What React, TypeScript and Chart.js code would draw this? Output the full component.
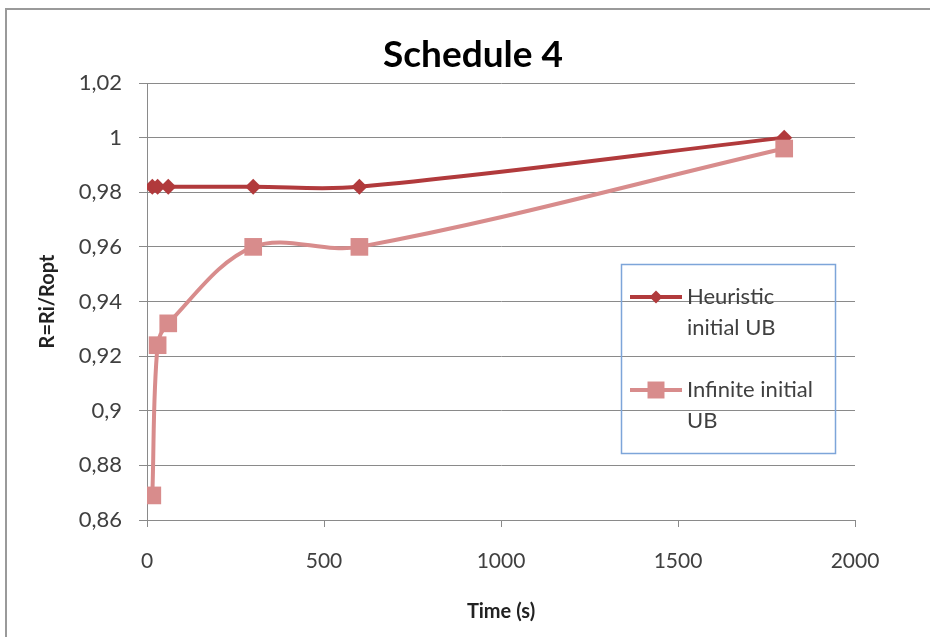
import React, { useEffect, useRef } from "react";
import { Chart, registerables } from "chart.js";

Chart.register(...registerables);

// Run time (s) at which each solution ratio was recorded
const heuristicTimes = [15, 30, 60, 300, 600, 1800];
const heuristicRatios = [0.982, 0.982, 0.982, 0.982, 0.982, 1.0];
const infiniteTimes = [15, 30, 60, 300, 600, 1800];
const infiniteRatios = [0.869, 0.924, 0.932, 0.96, 0.96, 0.996];

const xTickValues = [0, 500, 1000, 1500, 2000];
const yTickValues = [0.86, 0.88, 0.9, 0.92, 0.94, 0.96, 0.98, 1.0, 1.02];

const chartTitle = "Schedule 4";
const xAxisTitle = "Time (s)";
const yAxisTitle = "R=Ri/Ropt";
const seriesLabels = [
  ["Heuristic", "initial UB"],
  ["Infinite initial", "UB"],
];
const seriesColors = ["#B13A3C", "#D88C8C"];

const FONT = "Lato, 'Open Sans', sans-serif";

// Decimal comma, trailing zeros dropped (1,02 / 1 / 0,9)
const formatRatio = (v: number) =>
  String(Number(v.toFixed(2))).replace(".", ",");

function drawMarker(
  ctx: CanvasRenderingContext2D,
  style: string,
  x: number,
  y: number,
  r: number
) {
  ctx.beginPath();
  if (style === "rectRot") {
    ctx.moveTo(x - r, y);
    ctx.lineTo(x, y - r);
    ctx.lineTo(x + r, y);
    ctx.lineTo(x, y + r);
    ctx.closePath();
  } else {
    const s = r * Math.SQRT1_2;
    ctx.rect(x - s, y - s, 2 * s, 2 * s);
  }
  ctx.fill();
}

const decorations = {
  id: "decorations",
  beforeDraw(chart: any) {
    const ctx = chart.ctx as CanvasRenderingContext2D;
    ctx.save();
    ctx.fillStyle = "#ffffff";
    ctx.fillRect(0, 0, chart.width, chart.height);
    // outer chart frame
    ctx.strokeStyle = "#9a9a9a";
    ctx.lineWidth = 2;
    ctx.strokeRect(6, 9, chart.width + 20, chart.height + 20);
    ctx.restore();
  },
  afterDraw(chart: any) {
    const ctx = chart.ctx as CanvasRenderingContext2D;
    ctx.save();
    // title
    ctx.fillStyle = "#000000";
    ctx.font = `bold 37px ${FONT}`;
    ctx.textAlign = "center";
    ctx.textBaseline = "middle";
    ctx.fillText(chartTitle, 473, 55);

    // legend box
    const bx = 621.5, by = 264.5, bw = 214, bh = 189;
    ctx.strokeStyle = "#7DA5D9";
    ctx.lineWidth = 1.5;
    ctx.strokeRect(bx, by, bw, bh);

    const rows = [
      { y: 297, style: "rectRot", radius: 6.5 },
      { y: 390, style: "rect", radius: 12 },
    ];
    rows.forEach((row, i) => {
      ctx.strokeStyle = seriesColors[i];
      ctx.lineWidth = 4;
      ctx.beginPath();
      ctx.moveTo(630, row.y);
      ctx.lineTo(682, row.y);
      ctx.stroke();
      ctx.fillStyle = seriesColors[i];
      drawMarker(ctx, row.style, 656, row.y, row.radius);
      ctx.fillStyle = "#404040";
      ctx.font = `22px ${FONT}`;
      ctx.textAlign = "left";
      ctx.textBaseline = "middle";
      ctx.fillText(seriesLabels[i][0], 687, row.y);
      ctx.fillText(seriesLabels[i][1], 687, row.y + 31);
    });
    ctx.restore();
  },
};

export default function App() {
  const canvasRef = useRef<HTMLCanvasElement | null>(null);

  useEffect(() => {
    document.body.style.margin = "0";
    const canvas = canvasRef.current;
    if (!canvas) return;

    const heuristicPoints = heuristicTimes.map((t, i) => ({ x: t, y: heuristicRatios[i] }));
    const infinitePoints = infiniteTimes.map((t, i) => ({ x: t, y: infiniteRatios[i] }));

    const chart = new Chart(canvas, {
      type: "scatter",
      data: {
        datasets: [
          {
            label: seriesLabels[1].join(" "),
            data: infinitePoints,
            showLine: true,
            tension: 0.35,
            borderColor: seriesColors[1],
            backgroundColor: seriesColors[1],
            borderWidth: 4,
            pointStyle: "rect",
            pointRadius: 12.5,
            pointBorderWidth: 0,
          },
          {
            label: seriesLabels[0].join(" "),
            data: heuristicPoints,
            showLine: true,
            tension: 0.35,
            borderColor: seriesColors[0],
            backgroundColor: seriesColors[0],
            borderWidth: 4,
            pointStyle: "rectRot",
            pointRadius: 8,
            pointBorderWidth: 0,
          },
        ],
      },
      options: {
        responsive: false,
        animation: false,
        devicePixelRatio: 1,
        layout: { padding: { left: 32, right: 75, top: 83, bottom: 13 } },
        plugins: {
          legend: { display: false },
          title: { display: false },
          tooltip: { enabled: false },
        },
        scales: {
          x: {
            type: "linear",
            min: 0,
            max: 2000,
            afterBuildTicks: (s: any) => {
              s.ticks = xTickValues.map((v) => ({ value: v }));
            },
            afterFit: (s: any) => {
              s.height = 104;
            },
            grid: {
              drawOnChartArea: false,
              drawTicks: true,
              tickLength: 7,
              color: "#8a8a8a",
            },
            border: { display: true, color: "#8a8a8a", width: 1 },
            ticks: {
              padding: 22,
              color: "#404040",
              maxRotation: 0,
              font: { family: FONT, size: 21 },
              callback: (v: any) => String(v),
            },
            title: {
              display: true,
              text: xAxisTitle,
              color: "#222222",
              font: { family: FONT, size: 20, weight: "bold" },
              padding: { top: 0, bottom: 0 },
            },
          },
          y: {
            type: "linear",
            min: 0.86,
            max: 1.02,
            afterBuildTicks: (s: any) => {
              s.ticks = yTickValues.map((v) => ({ value: v }));
            },
            afterFit: (s: any) => {
              s.width = 115;
            },
            grid: {
              drawTicks: true,
              tickLength: 8,
              color: "#8a8a8a",
            },
            border: { display: true, color: "#8a8a8a", width: 1 },
            ticks: {
              padding: 17,
              color: "#404040",
              font: { family: FONT, size: 22 },
              callback: (v: any) => formatRatio(Number(v)),
            },
            title: {
              display: true,
              text: yAxisTitle,
              color: "#222222",
              font: { family: FONT, size: 20, weight: "bold" },
              padding: { top: 4, bottom: 4 },
            },
          },
        },
      },
      plugins: [decorations],
    });

    return () => chart.destroy();
  }, []);

  return (
    <div style={{ position: "absolute", left: 0, top: 0, width: 930, height: 637 }}>
      <canvas ref={canvasRef} width={930} height={637} style={{ width: 930, height: 637 }} />
    </div>
  );
}
